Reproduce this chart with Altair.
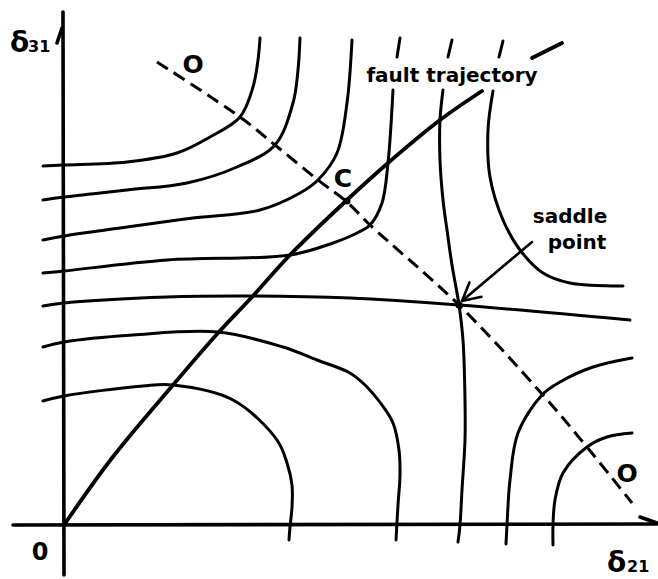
import altair as alt
import numpy as np
import pandas as pd

# ---- contour lines of the energy surface, in (delta21, delta31) plot units ----
a1_x = [-21, 0, 63, 113, 146, 176, 189, 194, 196]
a1_y = [359, 360, 363, 372, 388, 408, 438, 465, 487]

a2_x = [-21, 0, 63, 123, 173, 211, 229, 234, 236]
a2_y = [325, 328, 335, 342, 358, 380, 422, 455, 487]

a3_x = [-21, 0, 63, 129, 196, 236, 254, 273, 283, 288]
a3_y = [285, 289, 298, 307, 315, 332, 345, 372, 422, 485]

a4_x = [-21, 0, 103, 226, 269, 293, 306, 318, 324, 329]
a4_y = [252, 254, 265, 270, 282, 292, 300, 322, 362, 435]
a4_top_x = [333, 336]
a4_top_y = [468, 487]

h_x = [-21, 0, 103, 188, 286, 395, 566]
h_y = [219, 222, 228, 229, 227, 220, 205]

b1_x = [379, 376, 376, 379, 383, 388, 395, 399, 401, 401, 398, 396, 394]
b1_y = [435, 405, 365, 325, 295, 260, 220, 185, 125, 85, 35, 0, -17]
b1_top_x = [384, 388]
b1_top_y = [468, 485]

b2_x = [429, 424, 426, 439, 456, 479, 506, 559]
b2_y = [434, 395, 348, 305, 275, 252, 242, 239]
b2_top_x = [435, 439]
b2_top_y = [468, 484]

a5_x = [-21, 0, 69, 154, 219, 253, 286, 303, 318, 329, 335, 336, 334, 332]
a5_y = [178, 183, 190, 193, 178, 165, 152, 138, 120, 102, 75, 50, 20, -15]

a6_x = [-21, 0, 79, 109, 169, 213, 223, 228, 228, 226, 225]
a6_y = [124, 129, 139, 140, 125, 85, 62, 40, 18, -2, -15]

r1_x = [568, 529, 496, 478, 454, 446, 443, 442]
r1_y = [167, 158, 143, 130, 92, 45, 0, -19]

r2_x = [568, 543, 523, 499, 491, 489, 489]
r2_y = [92, 88, 78, 52, 25, 0, -20]

# ---- fault trajectory (broken where its label sits) ----
traj_x = [0, 48, 109, 154, 188, 226, 283, 324, 376, 418]
traj_y = [0, 67, 140, 192, 228, 270, 325, 362, 405, 434]
traj_top_x = [468, 498]
traj_top_y = [467, 482]

# ---- valley line O - C - saddle - O ----
valley_x = [93, 176, 211, 254, 283, 306, 395, 478, 523, 568]
valley_y = [463, 408, 380, 345, 323, 300, 220, 131, 78, 22]

# ---- special points ----
point_names = ["C", "saddle"]
point_x = [283, 395]
point_y = [324, 220]

# ---- axes with half arrow-heads ----
axis_names = ["y_axis", "y_head", "x_axis", "x_head"]
axis_x = [[0, -1], [-7, -2], [-51, 593], [576, 593]]
axis_y = [[-50, 513], [482, 497], [0, 1], [8, 2]]

# ---- pointer to the saddle point ----
arrow_tail = [468, 283]
arrow_tip = [398, 224]


def curves_frame(curves):
    rows = []
    for name, xs, ys in curves:
        for i, (x, y) in enumerate(zip(xs, ys)):
            rows.append({"curve": name, "idx": i, "x": x, "y": y})
    return pd.DataFrame(rows)


contours = curves_frame([
    ("a1", a1_x, a1_y), ("a2", a2_x, a2_y), ("a3", a3_x, a3_y),
    ("a4", a4_x, a4_y), ("a4_top", a4_top_x, a4_top_y),
    ("h", h_x, h_y),
    ("b1", b1_x, b1_y), ("b1_top", b1_top_x, b1_top_y),
    ("b2", b2_x, b2_y), ("b2_top", b2_top_x, b2_top_y),
    ("a5", a5_x, a5_y), ("a6", a6_x, a6_y),
    ("r1", r1_x, r1_y), ("r2", r2_x, r2_y),
])
trajectory = curves_frame([("t", traj_x, traj_y), ("t_top", traj_top_x, traj_top_y)])
valley = curves_frame([("v", valley_x, valley_y)])
axes = curves_frame(list(zip(axis_names, axis_x, axis_y)))

# open arrow-head: two barbs swung +-28 degrees off the shaft
tip = np.array(arrow_tip, dtype=float)
back = np.array(arrow_tail, dtype=float) - tip
back /= np.linalg.norm(back)
barbs = []
for ang in (np.radians(28), -np.radians(28)):
    rot = np.array([[np.cos(ang), -np.sin(ang)], [np.sin(ang), np.cos(ang)]])
    barbs.append(tip + 20 * rot @ back)
arrow = curves_frame([
    ("shaft", [arrow_tail[0], arrow_tip[0]], [arrow_tail[1], arrow_tip[1]]),
    ("barb1", [barbs[0][0], tip[0]], [barbs[0][1], tip[1]]),
    ("barb2", [barbs[1][0], tip[0]], [barbs[1][1], tip[1]]),
])
points = pd.DataFrame({"name": point_names, "x": point_x, "y": point_y})

xs = alt.Scale(domain=[-64, 594], nice=False, zero=False)
ys = alt.Scale(domain=[-54, 525], nice=False, zero=False)
X = alt.X("x:Q", scale=xs, axis=None)
Y = alt.Y("y:Q", scale=ys, axis=None)


def lines(df, width, dash=None, interp="catmull-rom"):
    kw = dict(color="black", strokeWidth=width, strokeCap="round", interpolate=interp)
    if dash:
        kw["strokeDash"] = dash
        kw["strokeCap"] = "butt"
    return alt.Chart(df).mark_line(**kw).encode(
        x=X, y=Y, detail="curve:N", order="idx:Q"
    )


one = pd.DataFrame({"k": [0]})
FONT = "DejaVu Sans"


def label(text, x, y, size, align="center"):
    return alt.Chart(one).mark_text(
        text=text, font=FONT, fontWeight="bold", fontSize=size,
        align=align, baseline="alphabetic", color="black",
    ).encode(
        x=alt.datum(x, scale=xs, axis=None),
        y=alt.datum(y, scale=ys, axis=None),
    )


layers = [
    lines(axes, 3.6, interp="linear"),
    lines(contours, 3.0),
    lines(trajectory, 3.8),
    lines(valley, 3.0, dash=[13, 7]),
    lines(arrow, 2.6, interp="linear"),
    alt.Chart(points).mark_point(filled=True, color="black", size=50, opacity=1).encode(x=X, y=Y),
    label("fault trajectory", 388, 443, 20),
    label("saddle", 506, 302, 20),
    label("point", 513, 276, 20),
    label("C", 279, 338, 25),
    label("O", 129, 452, 25),
    label("O", 563, 43, 25),
    label("0", -24, -35, 24),
    label("δ", -54, 473, 28, align="left"),
    label("31", -36, 473, 16, align="left"),
    label("δ", 543, -47, 28, align="left"),
    label("21", 563, -47, 16, align="left"),
]

chart = alt.layer(*layers).properties(
    width=658, height=579, padding=0, autosize="none", background="white"
).configure_view(stroke=None)

chart.save("out.html", embed_options={"renderer": "svg", "actions": False})
